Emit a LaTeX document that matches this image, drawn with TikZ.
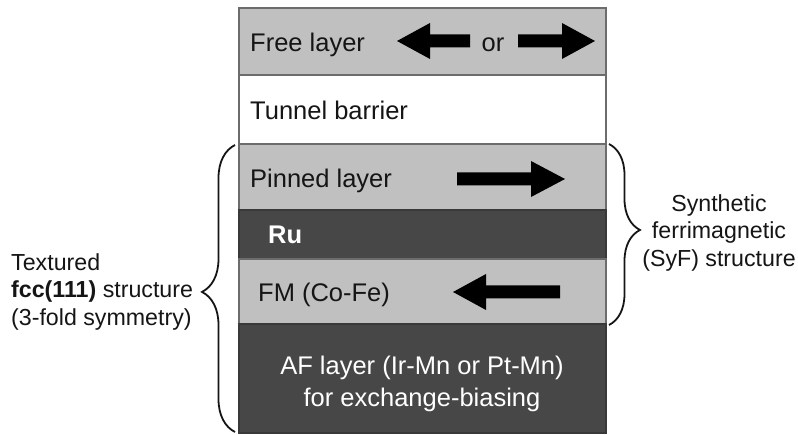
\documentclass[tikz,border=0pt]{standalone}
\usepackage{fontspec}
\setmainfont{Liberation Sans}
\usetikzlibrary{decorations.pathreplacing}
\definecolor{lightlayer}{HTML}{C0C0C0}
\definecolor{darklayer}{HTML}{474747}
\definecolor{ink}{HTML}{151515}
\tikzset{
  layerlight/.style={fill=lightlayer, draw=darklayer!80, line width=1.2pt},
  layerdark/.style={fill=darklayer, draw=darklayer!80!black, line width=1.2pt},
  layerwhite/.style={fill=white, draw=darklayer!80, line width=1.2pt},
  lbl/.style={font=\fontsize{25.5}{30}\selectfont, text=ink, inner sep=0pt, anchor=base west},
  sidelbl/.style={font=\fontsize{23.2}{27.5}\selectfont, text=ink, inner sep=0pt},
  bigarrow/.style={fill=black, draw=none},
  bracestyle/.style={draw=ink, line width=1.8pt, decorate}
}
\begin{document}
\begin{tikzpicture}[x=1pt,y=-1pt]
\useasboundingbox (0,0) rectangle (798,435);
% layers
\draw[layerlight] (239,8) rectangle (606,75);
\draw[layerwhite] (239,75) rectangle (606,144);
\draw[layerlight] (239,144) rectangle (606,210);
\draw[layerdark] (239,210) rectangle (606,259);
\draw[layerlight] (239,259) rectangle (606,324);
\draw[layerdark] (239,324) rectangle (606,433);
% labels
\node[lbl] (free) at (250,52) {Free layer};
\node[lbl, anchor=base] (or) at (493,52) {or};
\node[lbl] (tunnel) at (250,120) {Tunnel barrier};
\node[lbl] (pinned) at (250,188) {Pinned layer};
\node[lbl, text=white, font=\fontsize{25.5}{30}\selectfont\bfseries] (ru) at (268,244) {Ru};
\node[lbl] (fm) at (258,302) {FM (Co-Fe)};
\node[lbl, anchor=center, align=center, text=white, font=\fontsize{25.5}{32}\selectfont] (af) at (422,384) {AF layer (Ir-Mn or Pt-Mn)\\for exchange-biasing};
% arrows
\fill[bigarrow] (397,41) -- (430,23) -- (430,34.5) -- (470,34.5) -- (470,47.5) -- (430,47.5) -- (430,59) -- cycle;
\fill[bigarrow] (595,41) -- (562,23) -- (562,34.5) -- (518,34.5) -- (518,47.5) -- (562,47.5) -- (562,59) -- cycle;
\fill[bigarrow] (565,179) -- (531,161) -- (531,172.5) -- (457,172.5) -- (457,185.5) -- (531,185.5) -- (531,197) -- cycle;
\fill[bigarrow] (453,292) -- (486,274) -- (486,285.5) -- (560,285.5) -- (560,298.5) -- (486,298.5) -- (486,310) -- cycle;
% braces
\coordinate (lb1) at (235,432);
\coordinate (lb2) at (235,145);
\coordinate (rb1) at (609,144);
\coordinate (rb2) at (609,325);
\draw[bracestyle, decoration={brace, amplitude=33pt, aspect=0.488}] (lb1) -- (lb2);
\draw[bracestyle, decoration={brace, amplitude=31pt, aspect=0.475}] (rb1) -- (rb2);
% side labels
\node[sidelbl, anchor=west, align=left] (textured) at (11,292) {Textured\\\textbf{fcc(111)} structure\\(3-fold symmetry)};
\node[sidelbl, anchor=center, align=center] (syf) at (719,233) {Synthetic\\ferrimagnetic\\(SyF) structure};
\end{tikzpicture}
\end{document}
